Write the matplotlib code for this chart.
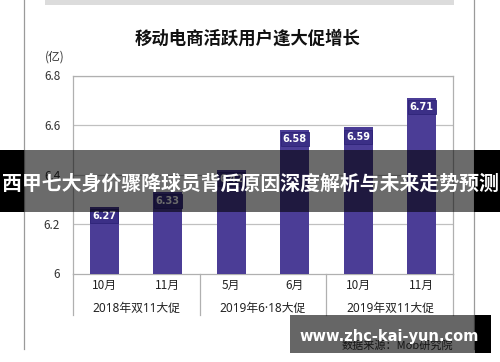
import matplotlib
matplotlib.use("Agg")
import matplotlib.pyplot as plt
from matplotlib.patches import Rectangle
from matplotlib.lines import Line2D

plt.rcParams['font.family'] = ['Noto Sans CJK SC', 'DejaVu Sans']

title = "移动电商活跃用户逢大促增长"
unit = "(亿)"
months = ["10月", "11月", "5月", "6月", "10月", "11月"]
groups = ["2018年双11大促", "2019年6·18大促", "2019年双11大促"]
values = [6.27, 6.33, 6.42, 6.58, 6.59, 6.71]
yticks = [6, 6.2, 6.4, 6.6, 6.8]
ytick_labels = ["6", "6.2", "6.4", "6.6", "6.8"]
banner = "西甲七大身价骤降球员背后原因深度解析与未来走势预测"
source = "数据来源：Mob研究院"
watermark = "www.zhc-kai-yun.com"

W, H = 500, 362
fig = plt.figure(figsize=(5, 3.62), dpi=100)
fig.patch.set_facecolor("white")

def fx(x):
    return x / W

def fy(y):
    return (H - y) / H

ax_l, ax_r, ax_t, ax_b = 72.7, 453.3, 75.5, 273.5
ax = fig.add_axes([fx(ax_l), fy(ax_b), fx(ax_r - ax_l), (ax_b - ax_t) / H])

bar_color = "#4b3d96"
x = list(range(len(values)))
ax.bar(x, [v - 6 for v in values], bottom=6, width=0.46, color=bar_color, zorder=3)
for xi, v in zip(x, values):
    ax.annotate(f"{v:.2f}", xy=(xi, v), xytext=(0, -3), textcoords="offset points",
                ha="center", va="top", color="white", fontsize=7, fontweight="bold",
                family="DejaVu Sans", zorder=5,
                bbox=dict(boxstyle="square,pad=0.2", facecolor="#3b2f86",
                          edgecolor="#2e2478", linewidth=0.6))

ax.set_xlim(-0.5, 5.5)
ax.set_ylim(6, 6.8)
ax.set_yticks(yticks)
ax.set_yticklabels(ytick_labels, fontsize=8.5, color="#333333")
ax.tick_params(axis="y", length=0, pad=9)
ax.set_xticks([])
for yv in yticks[1:]:
    ax.axhline(yv, color="#c0c0c0", linewidth=0.9, zorder=1)
for s in ax.spines.values():
    s.set_color("#b0b0b0")
    s.set_linewidth(0.9)

trans = ax.get_xaxis_transform()
for xs in [-0.5, 1.5, 3.5, 5.5]:
    ax.plot([xs, xs], [0, -0.21], transform=trans, color="#b0b0b0", linewidth=0.9,
            clip_on=False)
for xi, m in zip(x, months):
    ax.text(xi, -0.062, m, transform=trans, ha="center", va="center", fontsize=8.5,
            color="#222222")
for gi, g in enumerate(groups):
    ax.text(2 * gi + 0.5, -0.179, g, transform=trans, ha="center", va="center",
            fontsize=8.5, color="#222222", family=["Noto Sans", "Noto Sans CJK SC"])

# title and unit
fig.text(fx(247.5), fy(39), title, ha="center", va="center", fontsize=12.5,
         fontweight="bold", color="#111111")
fig.text(fx(45), fy(57), unit, ha="left", va="center", fontsize=8.5, color="#333333")

# outer frame lines
fig.add_artist(Line2D([fx(24.3), fx(24.3)], [fy(0), fy(349)], color="#9a9a9a", linewidth=0.9))
fig.add_artist(Line2D([fx(474.3), fx(474.3)], [fy(0), fy(349)], color="#9a9a9a", linewidth=0.9))
fig.add_artist(Rectangle((fx(45), fy(5)), fx(454 - 45), 5 / H, facecolor="#dcdcdc",
                         edgecolor="none", hatch="....", linewidth=0))

# source text
fig.text(fx(397), fy(345), source, ha="center", va="center", fontsize=8, color="#333333")

# banner overlay
fig.add_artist(Rectangle((0, fy(211.7)), fx(24.3), (211.7 - 150) / H, facecolor="black",
                         edgecolor="none", zorder=10))
fig.add_artist(Rectangle((fx(474.3), fy(211.7)), fx(500 - 474.3), (211.7 - 150) / H,
                         facecolor="black", edgecolor="none", zorder=10))
fig.add_artist(Rectangle((fx(24.3), fy(211.7)), fx(474.3 - 24.3), (211.7 - 150) / H,
                         facecolor="black", alpha=0.58, edgecolor="none", zorder=10))
fig.text(0.5, fy(183), banner, ha="center", va="center", fontsize=14.3, fontweight="bold",
         color="white", zorder=11)

# watermark overlay
fig.add_artist(Rectangle((fx(290), fy(352.7)), fx(475 - 290), (352.7 - 315) / H,
                         facecolor="black", alpha=0.6, edgecolor="none", zorder=10))
fig.add_artist(Rectangle((fx(475), fy(352.7)), fx(490.7 - 475), (352.7 - 315) / H,
                         facecolor="black", edgecolor="none", zorder=10))
fig.text(fx(389.5), fy(336.5), watermark, ha="center", va="center", fontsize=10.5,
         fontweight="bold", color="white", family="DejaVu Sans", zorder=11)

fig.savefig("out.png", dpi=100)
